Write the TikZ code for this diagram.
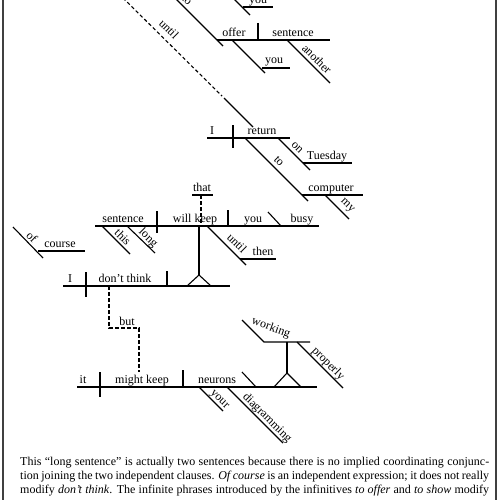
\documentclass[tikz,border=0pt]{standalone}
\usepackage{fontspec}
\setmainfont{Liberation Serif}
\begin{document}
\begin{tikzpicture}[x=1pt,y=-1pt,
  ln/.style={line width=1.1pt,line cap=butt},
  dsh/.style={line width=1.1pt,dash pattern=on 3.5pt off 2.5pt},
  wd/.style={font=\fontsize{12}{14}\selectfont,inner sep=0pt,anchor=base},
  sw/.style={font=\fontsize{12}{14}\selectfont,inner sep=0pt,rotate=-45},
  captext/.style={font=\fontsize{12}{14}\selectfont,inner sep=0pt,anchor=base west}]
\useasboundingbox (0,0) rectangle (500,500);
\fill[white] (0,0) rectangle (500,500);
% frame sides
\draw[line width=1.1pt,black!75] (3,0) -- (3,500);
\draw[line width=1.1pt,black!75] (496,0) -- (496,500);

% ---- top: to offer you another sentence
\draw[ln] (175,-2) -- (223,46);
\node[sw] (wto1) at (187,0) {to};
\draw[ln] (233,-2) -- (250,15);
\draw[ln] (243,7) -- (273,7);
\node[wd] (wyou0) at (258,3.5) {you};
\draw[ln] (217,40) -- (330,40);
\draw[ln] (258,23) -- (258,40);
\node[wd] (woffer) at (234,36.8) {offer};
\node[wd] (wsent1) at (293,36.8) {sentence};
\draw[ln] (287,40) -- (330,83);
\node[sw] (wanother) at (317,59) {another};
\draw[ln] (232,40) -- (265,73);
\draw[ln] (262,68) -- (290,68);
\node[wd] (wyou1) at (274,64) {you};

% ---- until (dashed) to return
\draw[dsh] (123,-2) -- (222,96);
\node[sw] (wuntil1) at (169,29) {until};
\draw[ln] (224,98) -- (253,127);

% ---- I return on Tuesday to computer my
\draw[ln] (207,138) -- (290,138);
\draw[ln] (233,125) -- (233,148);
\node[wd] (wI1) at (212,134.5) {I};
\node[wd] (wreturn) at (262,134.5) {return};
\draw[ln] (278,138) -- (310,170);
\node[sw] (won) at (297,148) {on};
\draw[ln] (303,163) -- (352,163);
\node[wd] (wtues) at (327,159.5) {Tuesday};
\draw[ln] (245,138) -- (308,201);
\node[sw] (wto2) at (279,161) {to};
\draw[ln] (302,195) -- (363,195);
\node[wd] (wcomp) at (331,191.5) {computer};
\draw[ln] (325,195) -- (349,219);
\node[sw] (wmy) at (347,206) {my};

% ---- sentence will keep you busy
\draw[ln] (192,195) -- (213,195);
\node[wd] (wthat) at (202,191.5) {that};
\draw[dsh] (201,195) -- (201,226);
\draw[ln] (95,226) -- (319,226);
\draw[ln] (157,211) -- (157,233);
\draw[ln] (228,210) -- (228,226);
\draw[ln] (268,212) -- (281,226);
\node[wd] (wsent2) at (123,222.5) {sentence};
\node[wd] (wwill) at (195,222.5) {will keep};
\node[wd] (wyou2) at (253,222.5) {you};
\node[wd] (wbusy) at (302,222.5) {busy};
\draw[ln] (102,226) -- (130,254);
\node[sw] (wthis) at (123,237) {this};
\draw[ln] (127,226) -- (155,253);
\node[sw] (wlong) at (148,238) {long};
\draw[ln] (207,226) -- (246,265);
\node[sw] (wuntil2) at (237,243) {until};
\draw[ln] (240,259) -- (276,259);
\node[wd] (wthen) at (263,255.5) {then};
\draw[ln] (199,226) -- (199,275);
\draw[ln] (187,286) -- (199,275) -- (211,286);

% ---- of course
\draw[ln] (13,227) -- (43,258);
\node[sw] (wof) at (32,237) {of};
\draw[ln] (38,251) -- (85,251);
\node[wd] (wcourse) at (60,247.5) {course};

% ---- I don't think
\draw[ln] (63,286) -- (230,286);
\draw[ln] (86,272) -- (86,297);
\draw[ln] (167,271) -- (167,286);
\node[wd] (wI2) at (70,282.5) {I};
\node[wd] (wdont) at (125,282.5) {don’t think};

% ---- but
\draw[dsh] (109,286) -- (109,328) -- (139,328) -- (139,372);
\node[wd] (wbut) at (127,325) {but};

% ---- it might keep neurons working properly
\draw[ln] (77,387) -- (317,387);
\draw[ln] (100,372) -- (100,397);
\draw[ln] (183,370) -- (183,387);
\draw[ln] (242,372) -- (256,387);
\node[wd] (wit) at (83,383.5) {it};
\node[wd] (wmight) at (142,383.5) {might keep};
\node[wd] (wneur) at (217,383.5) {neurons};
\draw[ln] (274,387) -- (287,373) -- (301,387);
\draw[ln] (287,373) -- (287,342);
\draw[ln] (242,320) -- (264,342) -- (310,342);
\node[font=\fontsize{12}{14}\selectfont,inner sep=0pt,rotate=-20] (wwork) at (271,328) {working};
\draw[ln] (297,342) -- (343,388);
\node[sw] (wprop) at (328,364) {properly};
\draw[ln] (199,387) -- (223,411);
\node[sw] (wyour) at (219,400) {your};
\draw[ln] (227,387) -- (283,443);
\node[sw] (wdiag) at (267,418) {diagramming};

% ---- caption
\node[captext] (c1) at (20,465) {\makebox[469pt][s]{This “long sentence” is actually two sentences because there is no implied coordinating conjunc-}};
\node[captext] (c2) at (20,479) {\makebox[469pt][s]{tion joining the two independent clauses. \textit{Of course} is an independent expression; it does not really}};
\node[captext] (c3) at (20,493) {\makebox[469pt][s]{modify \textit{don’t think}. The infinite phrases introduced by the infinitives \textit{to offer} and \textit{to show} modify}};
\end{tikzpicture}
\end{document}
